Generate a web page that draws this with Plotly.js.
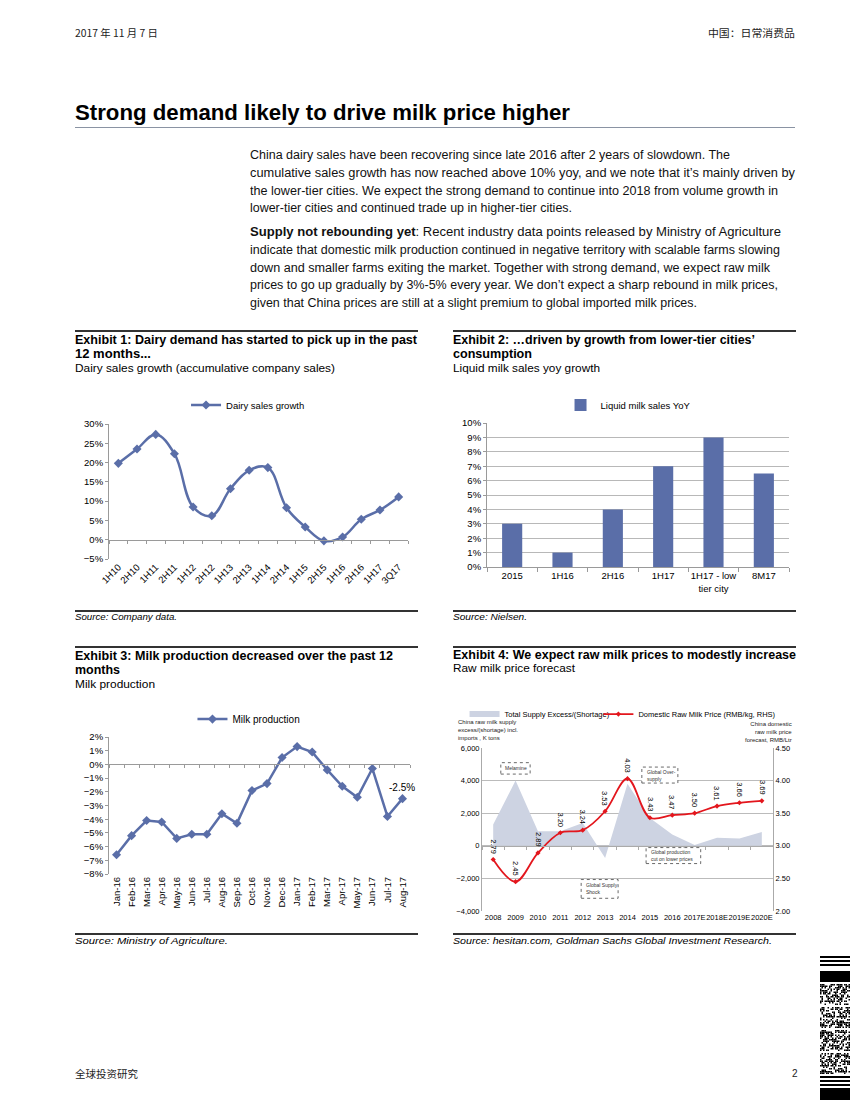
<!DOCTYPE html>
<html><head><meta charset="utf-8">
<script src="https://cdn.plot.ly/plotly-3.0.1.min.js"></script>
<style>
body{margin:0;background:#fff;}
#page{position:relative;width:850px;height:1100px;overflow:hidden;background:#fff;font-family:"Liberation Sans",Arial,sans-serif;color:#000;}
.t{position:absolute;white-space:nowrap;transform-origin:0 50%;}
.rule{position:absolute;height:1.5px;background:#333;}
.chart{position:absolute;}
</style></head>
<body><div id="page"></div>
<script>
// ---------- DATA ----------
const dairyCats = ['1H10','2H10','1H11','2H11','1H12','2H12','1H13','2H13','1H14','2H14','1H15','2H15','1H16','2H16','1H17','3Q17'];
const dairyGrowth = [19.8,23.5,27.3,22.3,8.5,6.2,13.2,18.0,18.7,8.3,3.3,-0.3,0.7,5.3,7.7,11.1];

const liquidCats = ['2015','1H16','2H16','1H17','1H17 - low<br>tier city','8M17'];
const liquidYoY = [3,1,4,7,9,6.5];

const milkMonths = ['Jan-16','Feb-16','Mar-16','Apr-16','May-16','Jun-16','Jul-16','Aug-16','Sep-16','Oct-16','Nov-16','Dec-16','Jan-17','Feb-17','Mar-17','Apr-17','May-17','Jun-17','Jul-17','Aug-17'];
const milkProduction = [-6.6,-5.2,-4.1,-4.2,-5.4,-5.1,-5.1,-3.6,-4.3,-1.9,-1.4,0.5,1.3,0.9,-0.4,-1.6,-2.4,-0.3,-3.8,-2.5];

const years = ['2008','2009','2010','2011','2012','2013','2014','2015','2016','2017E','2018E','2019E','2020E'];
const supplyExcess = [1300,4000,900,900,1400,-750,3800,1700,700,50,500,450,850];
const rawMilkPrice = [2.79,2.45,2.89,3.20,3.24,3.53,4.03,3.43,3.47,3.50,3.61,3.66,3.69];

const calloutTexts = ['Melamine','Global Over-<br>supply','Global production<br>cut on lower prices','Global Supply<br>Shock'];

// ---------- TEXT HELPERS ----------
const page = document.getElementById('page');
function T(html, x, yc, o){
  o = o||{};
  const d = document.createElement('div');
  d.className='t';
  d.innerHTML = html;
  const size = o.size||12;
  d.style.fontSize = size+'px';
  d.style.fontFamily = o.family || '"Liberation Sans", Arial, sans-serif';
  d.style.fontWeight = o.bold?'bold':'normal';
  d.style.fontStyle = o.italic?'italic':'normal';
  d.style.color = o.color||'#000';
  const lh = Math.round(size*1.25);
  d.style.lineHeight = lh+'px';
  d.style.top = (yc - lh/2)+'px';
  d.style.left = x+'px';
  page.appendChild(d);
  const w0 = d.getBoundingClientRect().width;
  let w = w0;
  if(o.w){ d.style.transform = 'scaleX('+(o.w/w0)+')'; w = o.w; }
  if(o.right){ d.style.left = (x - w)+'px'; }
  return d;
}
function R(x0,x1,y,h,c){
  const d=document.createElement('div');d.className='rule';
  d.style.left=x0+'px';d.style.width=(x1-x0)+'px';d.style.top=y+'px';
  d.style.height=(h||1.5)+'px';d.style.background=c||'#333';page.appendChild(d);
}
const CJK = '"Noto Sans CJK SC","Liberation Sans",sans-serif';
const NAR = '"Liberation Sans Narrow","Liberation Sans",Arial,sans-serif';

// header
T('2017 年 11 月 7 日',75,32,{size:10,family:CJK,w:83,color:'#222'});
T('中国：日常消费品',795,32,{size:10,family:CJK,w:87,right:true,color:'#222'});
T('Strong demand likely to drive milk price higher',75,113,{size:22,bold:true,family:NAR,w:495});
R(75,795,127,1,'#8a93a3');

// body
const p1 = ['China dairy sales have been recovering since late 2016 after 2 years of slowdown. The',
 'cumulative sales growth has now reached above 10% yoy, and we note that it’s mainly driven by',
 'the lower-tier cities. We expect the strong demand to continue into 2018 from volume growth in',
 'lower-tier cities and continued trade up in higher-tier cities.'];
const p1w=[480,545,528,322]; const p1y=[155,173,191,208];
p1.forEach((s,i)=>T(s,250,p1y[i],{size:12.5,w:p1w[i],color:'#111'}));
const p2 = ['<b>Supply not rebounding yet</b>: Recent industry data points released by Ministry of Agriculture',
 'indicate that domestic milk production continued in negative territory with scalable farms slowing',
 'down and smaller farms exiting the market. Together with strong demand, we expect raw milk',
 'prices to go up gradually by 3%-5% every year. We don’t expect a sharp rebound in milk prices,',
 'given that China prices are still at a slight premium to global imported milk prices.'];
const p2w=[531,530,520,528,447]; const p2y=[232,250,268,285,303];
p2.forEach((s,i)=>T(s,250,p2y[i],{size:12.5,w:p2w[i],color:'#111'}));

// exhibit headers
R(75,418,330); R(453,796,330);
T('Exhibit 1: Dairy demand has started to pick up in the past',75,340,{size:12.5,bold:true,family:NAR,w:342});
T('12 months...',75,354,{size:12.5,bold:true,family:NAR,w:76});
T('Dairy sales growth (accumulative company sales)',75,368,{size:11.5,family:NAR,w:260});
T('Exhibit 2: …driven by growth from lower-tier cities’',453,340,{size:12.5,bold:true,family:NAR,w:302});
T('consumption',453,354,{size:12.5,bold:true,family:NAR,w:79});
T('Liquid milk sales yoy growth',453,368,{size:11.5,family:NAR,w:147});

R(75,418,610); R(453,796,610);
T('Source: Company data.',75,617,{size:9.5,italic:true,family:NAR,w:102});
T('Source: Nielsen.',453,617,{size:9.5,italic:true,family:NAR,w:74});

R(75,418,646); R(453,796,646);
T('Exhibit 3: Milk production decreased over the past 12',75,656,{size:12.5,bold:true,family:NAR,w:318});
T('months',75,670,{size:12.5,bold:true,family:NAR,w:45});
T('Milk production',75,684,{size:11.5,family:NAR,w:80});
T('Exhibit 4: We expect raw milk prices to modestly increase',453,655,{size:12.5,bold:true,family:NAR,w:343});
T('Raw milk price forecast',453,668,{size:11.5,family:NAR,w:122});

R(75,418,933); R(453,796,933);
T('Source: Ministry of Agriculture.',75,941,{size:9.5,italic:true,family:NAR,w:153});
T('Source: hesitan.com, Goldman Sachs Global Investment Research.',453,941,{size:9.5,italic:true,family:NAR,w:319});

// footer
T('全球投资研究',75,1073,{size:10,family:CJK,w:63,color:'#222'});
T('2',792,1073,{size:10,color:'#222'});

// QR-like strip (decoration)
(function(){
  const c=document.createElement('canvas');c.width=30;c.height=146;
  c.style.position='absolute';c.style.left='820px';c.style.top='955px';
  page.appendChild(c);const g=c.getContext('2d');g.fillStyle='#000';
  [1,5,9].forEach(y=>g.fillRect(0,y,30,2));
  g.fillRect(0,16,30,11);
  const pat='9b3e71c5a2f08d64e7193bc85fa2d10e6c47b98a35f1e02d7c9b46a81f3e5d20c7a9b14e6f803d25b7c91ae4';
  for(let b=0;b<4;b++){
    const y0=29+b*23;
    for(let r=0;r<14;r++){for(let col=0;col<20;col++){
      const v=parseInt(pat[(r*7+col*3+b*11)%pat.length],16);
      if(((v>>(col%4))&1)===1) g.fillRect(col*1.5,y0+r*1.5,1.5,1.5);
    }}
  }
  [121,125,129].forEach(y=>g.fillRect(0,y,30,2));
  g.fillRect(0,133,30,13);
})();

// ---------- CHARTS ----------
function mk(id,x,y,w,h){const d=document.createElement('div');d.id=id;d.className='chart';
 d.style.left=x+'px';d.style.top=y+'px';d.style.width=w+'px';d.style.height=h+'px';page.appendChild(d);return d;}
const FONT='"Liberation Sans", Arial, sans-serif';
const BLUE='#5a6ea8';
const AX='#9a9a9a';
const cfg={staticPlot:true,displayModeBar:false};

// Chart 1
mk('c1',75,385,343,220);
(function(){
  const yr=[-5,30];
  Plotly.newPlot('c1',[
    {x:dairyCats,y:dairyGrowth,type:'scatter',mode:'lines+markers',name:'Dairy sales growth',
     line:{color:BLUE,width:2.5,shape:'spline',smoothing:1.1},marker:{symbol:'diamond',size:7,color:BLUE}},
    {x:dairyCats,y:dairyGrowth,xaxis:'x2',type:'scatter',mode:'lines',line:{width:0},opacity:0,showlegend:false,hoverinfo:'skip'}
  ],{
    width:343,height:220,margin:{l:34,r:10,t:39,b:46},
    paper_bgcolor:'rgba(0,0,0,0)',plot_bgcolor:'rgba(0,0,0,0)',
    font:{family:FONT,size:9,color:'#000'},
    legend:{orientation:'h',x:0.465,xanchor:'center',yref:'container',y:0.909,yanchor:'middle',font:{size:9.5},itemwidth:30},
    xaxis:{type:'category',range:[-0.5,dairyCats.length-0.5],showline:false,ticks:'',tickangle:-45,showgrid:false,zeroline:false,tickfont:{size:9.5}},
    xaxis2:{type:'category',overlaying:'x',anchor:'free',position:-yr[0]/(yr[1]-yr[0]),range:[-0.5,dairyCats.length-0.5],
      showline:true,linecolor:AX,linewidth:1,ticks:'outside',ticklen:3,tickcolor:AX,tickson:'boundaries',showticklabels:false,showgrid:false,zeroline:false},
    yaxis:{range:yr,dtick:5,ticksuffix:'%',showline:true,linecolor:AX,ticks:'outside',ticklen:3,tickcolor:AX,showgrid:false,zeroline:false,tickfont:{size:9.5}}
  },cfg);
})();

// Chart 2
mk('c2',453,385,342,220);
Plotly.newPlot('c2',[
  {x:liquidCats,y:liquidYoY,type:'bar',name:'Liquid milk sales YoY',marker:{color:BLUE}}
],{
  width:342,height:220,margin:{l:34,r:6,t:38,b:38},
  paper_bgcolor:'rgba(0,0,0,0)',plot_bgcolor:'rgba(0,0,0,0)',
  font:{family:FONT,size:9,color:'#000'},showlegend:true,bargap:0.6,
  legend:{orientation:'h',x:0.467,xanchor:'center',yref:'container',y:0.909,yanchor:'middle',font:{size:9.5},itemwidth:30},
  xaxis:{type:'category',tickangle:0,showline:true,linecolor:AX,ticks:'outside',ticklen:4,tickcolor:AX,tickson:'boundaries',showgrid:false,tickfont:{size:9.5}},
  yaxis:{range:[0,10],dtick:1,ticksuffix:'%',showline:true,linecolor:AX,ticks:'outside',ticklen:3,tickcolor:AX,showgrid:true,gridcolor:'#b8b8b8',zeroline:false,tickfont:{size:9.5}}
},cfg);

// Chart 3
mk('c3',75,700,343,230);
(function(){
  const yr=[-8,2]; const n=milkMonths.length;
  Plotly.newPlot('c3',[
    {x:milkMonths,y:milkProduction,type:'scatter',mode:'lines+markers',name:'Milk production',
     line:{color:BLUE,width:2.5},marker:{symbol:'diamond',size:7,color:BLUE}},
    {x:milkMonths,y:milkProduction,xaxis:'x2',type:'scatter',mode:'lines',line:{width:0},opacity:0,showlegend:false,hoverinfo:'skip'}
  ],{
    width:343,height:230,margin:{l:34,r:8,t:37,b:56},
    paper_bgcolor:'rgba(0,0,0,0)',plot_bgcolor:'rgba(0,0,0,0)',
    font:{family:FONT,size:9,color:'#000'},
    legend:{orientation:'h',x:0.465,xanchor:'center',yref:'container',y:0.917,yanchor:'middle',font:{size:10},itemwidth:30},
    xaxis:{type:'category',range:[-0.5,n-0.5],showline:false,ticks:'',tickangle:-90,showgrid:false,zeroline:false,tickfont:{size:9.5}},
    xaxis2:{type:'category',overlaying:'x',anchor:'free',position:-yr[0]/(yr[1]-yr[0]),range:[-0.5,n-0.5],
      showline:true,linecolor:AX,linewidth:1,ticks:'outside',ticklen:3,tickcolor:AX,tickson:'boundaries',showticklabels:false,showgrid:false,zeroline:false},
    yaxis:{range:yr,dtick:1,ticksuffix:'%',showline:true,linecolor:AX,ticks:'outside',ticklen:3,tickcolor:AX,showgrid:false,zeroline:false,tickfont:{size:9.5}},
    annotations:[{x:n-1,y:milkProduction[n-1],xref:'x',yref:'y',text:milkProduction[n-1].toFixed(1)+'%',showarrow:false,yshift:11,font:{size:10}}]
  },cfg);
})();

// Chart 4
mk('c4',453,700,347,230);
(function(){
  const yr=[-4000,6000]; const n=years.length;
  const boxes=[[0.34,1.65,4400,5100],[6.64,8.25,3850,4830],[6.83,9.27,-1090,-110],[3.93,5.58,-3220,-2070]];
  const shapes=boxes.map(b=>({type:'rect',xref:'x',yref:'y',x0:b[0],x1:b[1],y0:b[2],y1:b[3],line:{color:'#444',width:0.8,dash:'dot'},fillcolor:'#fff',layer:'above'}));
  const ann=[];
  boxes.forEach((b,i)=>ann.push({x:b[0]+0.12,y:(b[2]+b[3])/2,xref:'x',yref:'y',xanchor:'left',yanchor:'middle',align:'left',text:calloutTexts[i],showarrow:false,font:{size:5,color:'#333'}}));
  rawMilkPrice.forEach((v,i)=>ann.push({x:i,y:v,xref:'x',yref:'y2',text:v.toFixed(2),textangle:90,yshift:13,showarrow:false,font:{size:7.5,color:'#000'}}));
  ann.push({x:-0.089,y:1.19,xref:'paper',yref:'paper',xanchor:'left',yanchor:'top',align:'left',showarrow:false,
    text:'China raw milk supply<br>excess/(shortage) incl.<br>imports , K tons',font:{size:6,color:'#222'}});
  ann.push({x:1.072,y:1.175,xref:'paper',yref:'paper',xanchor:'right',yanchor:'top',align:'right',showarrow:false,
    text:'China domestic<br>raw milk price<br>forecast, RMB/Ltr',font:{size:6,color:'#222'}});
  Plotly.newPlot('c4',[
    {x:years,y:supplyExcess,type:'scatter',mode:'none',fill:'tozeroy',fillcolor:'#cdd3e2',name:'Total Supply Excess/(Shortage)',legend:'legend'},
    {x:years,y:rawMilkPrice,yaxis:'y2',type:'scatter',mode:'lines+markers',name:'Domestic Raw Milk Price (RMB/kg, RHS)',legend:'legend2',
     line:{color:'#e3161d',width:1.8,shape:'spline',smoothing:1},marker:{size:4,color:'#e3161d',symbol:'diamond'}},
    {x:years,y:supplyExcess,xaxis:'x2',type:'scatter',mode:'lines',line:{width:0},opacity:0,showlegend:false,hoverinfo:'skip'}
  ],{
    width:347,height:230,margin:{l:29,r:27,t:48,b:19},
    paper_bgcolor:'rgba(0,0,0,0)',plot_bgcolor:'rgba(0,0,0,0)',
    font:{family:FONT,size:7,color:'#000'},
    legend:{orientation:'h',x:-0.06,xanchor:'left',yref:'container',y:0.939,yanchor:'middle',font:{size:7.5},itemwidth:30,bgcolor:'rgba(0,0,0,0)'},
    legend2:{orientation:'h',x:0.40,xanchor:'left',yref:'container',y:0.939,yanchor:'middle',font:{size:7.5},itemwidth:30,bgcolor:'rgba(0,0,0,0)'},
    xaxis:{type:'category',range:[-0.5,n-0.5],tickangle:0,showline:false,ticks:'',showgrid:false,zeroline:false,tickfont:{size:7.5}},
    xaxis2:{type:'category',overlaying:'x',anchor:'free',position:-yr[0]/(yr[1]-yr[0]),range:[-0.5,n-0.5],
      showline:true,linecolor:'#aaa',linewidth:1,ticks:'outside',ticklen:3,tickcolor:'#aaa',tickson:'boundaries',showticklabels:false,showgrid:false,zeroline:false},
    yaxis:{range:yr,dtick:2000,tickformat:',',showline:true,linecolor:'#aaa',showgrid:true,gridcolor:'#bbb',zeroline:false,tickfont:{size:7.5}},
    yaxis2:{range:[2,4.5],dtick:0.5,tickformat:'.2f',overlaying:'y',side:'right',showline:true,linecolor:'#aaa',showgrid:false,zeroline:false,tickfont:{size:7.5}},
    shapes:shapes,annotations:ann
  },cfg);
})();
</script></body></html>
